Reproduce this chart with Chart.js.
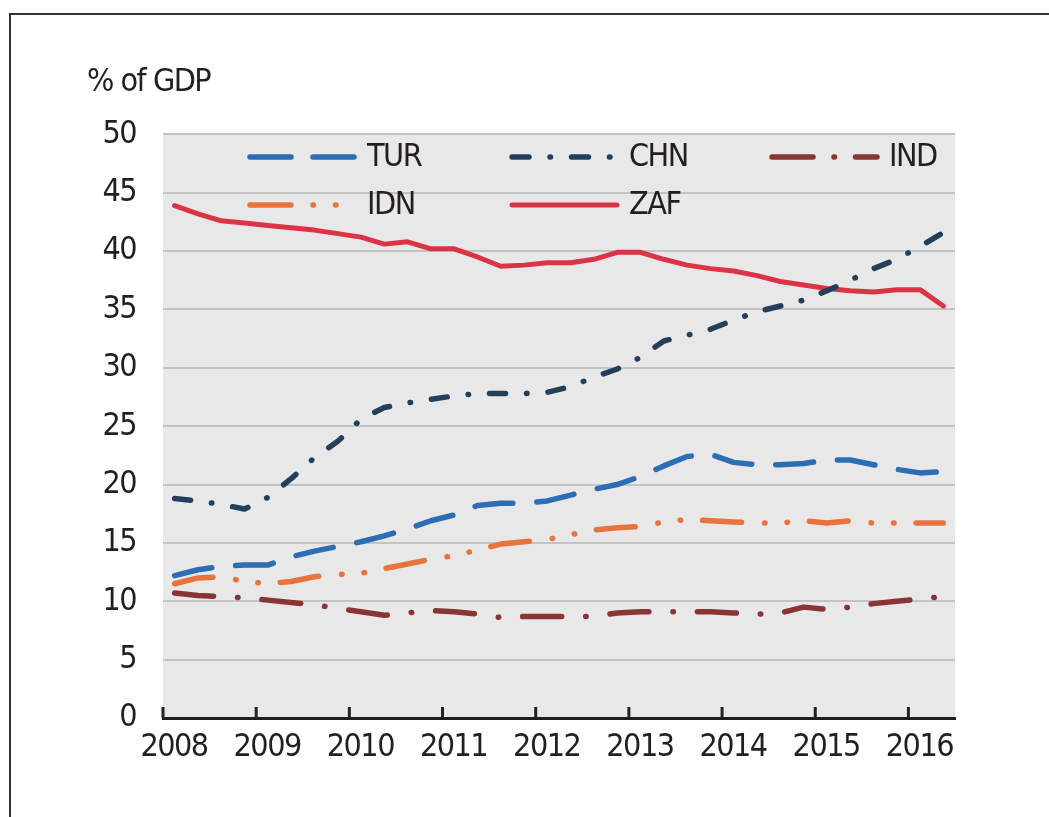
<!DOCTYPE html>
<html>
<head>
<meta charset="utf-8">
<title>% of GDP</title>
<script src="https://cdn.jsdelivr.net/npm/chart.js@4"></script>
<style>
  html, body { margin: 0; padding: 0; background: #fff; overflow: hidden; }
  #wrap { position: relative; width: 1049px; height: 817px; }
  #frame {
    position: absolute; left: 9px; top: 13px; width: 1100px; height: 900px;
    border-top: 2px solid #333; border-left: 2px solid #333;
  }
  #myChart { position: absolute; left: 0; top: 0; }
</style>
</head>
<body>
<div id="wrap">
  <div id="frame"></div>
  <canvas id="myChart" width="1049" height="817"></canvas>
</div>
<script>
// tick labels and quarterly positions (middle of each quarter)
const years = [2008, 2009, 2010, 2011, 2012, 2013, 2014, 2015, 2016];
const quarters = [
  2008.125, 2008.375, 2008.625, 2008.875, 2009.125, 2009.375, 2009.625, 2009.875,
  2010.125, 2010.375, 2010.625, 2010.875, 2011.125, 2011.375, 2011.625, 2011.875,
  2012.125, 2012.375, 2012.625, 2012.875, 2013.125, 2013.375, 2013.625, 2013.875,
  2014.125, 2014.375, 2014.625, 2014.875, 2015.125, 2015.375, 2015.625, 2015.875,
  2016.125, 2016.375,
];

// series values, % of GDP
const tur = [
  12.2, 12.7, 13.0, 13.1, 13.1, 13.8, 14.3, 14.7, 15.1, 15.6, 16.2, 16.9,
  17.4, 18.2, 18.4, 18.4, 18.6, 19.1, 19.6, 20.0, 20.7, 21.6, 22.4, 22.6,
  21.9, 21.7, 21.7, 21.8, 22.1, 22.1, 21.7, 21.3, 21.0, 21.1,
];
const chn = [
  18.8, 18.6, 18.3, 17.9, 18.9, 20.5, 22.3, 23.7, 25.6, 26.6, 27.0, 27.3,
  27.6, 27.8, 27.8, 27.8, 27.9, 28.4, 29.2, 29.9, 30.9, 32.3, 32.8, 33.3,
  34.1, 34.8, 35.3, 35.8, 36.6, 37.5, 38.5, 39.3, 40.4, 41.6,
];
const ind = [
  10.7, 10.5, 10.4, 10.3, 10.1, 9.9, 9.7, 9.4, 9.1, 8.8, 9.0, 9.2,
  9.1, 8.9, 8.6, 8.7, 8.7, 8.7, 8.7, 9.0, 9.1, 9.1, 9.1, 9.1,
  9.0, 8.9, 9.0, 9.5, 9.3, 9.5, 9.8, 10.0, 10.2, 10.4,
];
const idn = [
  11.5, 12.0, 12.1, 11.7, 11.5, 11.7, 12.1, 12.3, 12.4, 12.8, 13.2, 13.6,
  13.9, 14.4, 14.9, 15.1, 15.3, 15.7, 16.1, 16.3, 16.4, 16.8, 17.0, 16.9,
  16.8, 16.7, 16.7, 16.9, 16.7, 16.9, 16.7, 16.7, 16.7, 16.7,
];
const zaf = [
  43.9, 43.2, 42.6, 42.4, 42.2, 42.0, 41.8, 41.5, 41.2, 40.6, 40.8, 40.2,
  40.2, 39.5, 38.7, 38.8, 39.0, 39.0, 39.3, 39.9, 39.9, 39.3, 38.8, 38.5,
  38.3, 37.9, 37.4, 37.1, 36.8, 36.6, 36.5, 36.7, 36.7, 35.3,
];

const FONT = '"Liberation Sans Narrow", "DejaVu Sans Condensed", "Arial Narrow", sans-serif';
const TEXT = "#231f20";
const TIGHT = "-1.5px"; // narrow the lettering a bit, the original uses a condensed face

function points(values) {
  return values.map((v, i) => ({ x: quarters[i], y: v }));
}

// legend slots: column x of the line sample, row y (inside the plot)
const legendSlots = [
  { x: 250, y: 157 }, // TUR
  { x: 512, y: 157 }, // CHN
  { x: 772, y: 157 }, // IND
  { x: 250, y: 205 }, // IDN
  { x: 512, y: 205 }, // ZAF
];

const chartDecor = {
  id: "chartDecor",
  beforeDraw(chart) {
    const { ctx, chartArea: a } = chart;
    ctx.save();
    ctx.fillStyle = "#e8e8e8";
    ctx.fillRect(a.left, a.top, a.right - a.left, a.bottom - a.top);
    ctx.restore();
    ctx.letterSpacing = TIGHT;
  },
  afterDraw(chart) {
    const { ctx, chartArea: a } = chart;
    const xs = chart.scales.x;
    ctx.save();
    // tick marks pointing up into the plot
    ctx.strokeStyle = "#222";
    ctx.lineWidth = 3;
    xs.ticks.forEach((t) => {
      const px = xs.getPixelForValue(t.value);
      ctx.beginPath();
      ctx.moveTo(px, a.bottom);
      ctx.lineTo(px, a.bottom - 11);
      ctx.stroke();
    });

    // legend inside the plot
    ctx.font = "32px " + FONT;
    ctx.letterSpacing = TIGHT;
    ctx.textBaseline = "middle";
    ctx.fillStyle = TEXT;
    chart.data.datasets.forEach((ds, i) => {
      const s = legendSlots[i];
      ctx.save();
      ctx.strokeStyle = ds.borderColor;
      ctx.lineWidth = ds.borderWidth;
      ctx.lineCap = "round";
      ctx.setLineDash(ds.legendDash || []);
      ctx.beginPath();
      ctx.moveTo(s.x, s.y);
      ctx.lineTo(s.x + 105, s.y);
      ctx.stroke();
      ctx.restore();
      ctx.fillText(ds.label, s.x + 117, s.y + 1);
    });
    ctx.restore();
  },
};

const ctx = document.getElementById("myChart").getContext("2d");
const myChart = new Chart(ctx, {
  type: "line",
  data: {
    datasets: [
      {
        label: "TUR",
        data: points(tur),
        borderColor: "#2d6db4",
        borderWidth: 5.5,
        borderDash: [38, 24],
        legendDash: [41, 22],
      },
      {
        label: "CHN",
        data: points(chn),
        borderColor: "#22405c",
        borderWidth: 5.5,
        borderDash: [16, 21, 0.5, 21],
        legendDash: [17, 21, 0.5, 21],
      },
      {
        label: "IND",
        data: points(ind),
        borderColor: "#8a3535",
        borderWidth: 5.5,
        borderDash: [39, 24, 0.5, 24],
        legendDash: [41, 21, 0.5, 21],
      },
      {
        label: "IDN",
        data: points(idn),
        borderColor: "#e8733d",
        borderWidth: 5.5,
        borderDash: [39, 23, 0.5, 22, 0.5, 22],
        legendDash: [41, 22, 0.5, 22, 0.5, 22],
      },
      {
        label: "ZAF",
        data: points(zaf),
        borderColor: "#dc3447",
        borderWidth: 5,
      },
    ],
  },
  options: {
    responsive: false,
    animation: false,
    datasets: {
      line: {
        pointRadius: 0,
        tension: 0,
        borderCapStyle: "round",
        borderJoinStyle: "round",
      },
    },
    layout: {
      padding: { left: 87, right: 94, top: 0, bottom: 39 },
    },
    plugins: {
      legend: { display: false },
      tooltip: { enabled: false },
      title: {
        display: true,
        text: "% of GDP",
        align: "start",
        color: TEXT,
        font: { family: FONT, size: 32, weight: "normal" },
        padding: { top: 63, bottom: 33 },
      },
    },
    scales: {
      x: {
        type: "linear",
        min: 2008,
        max: 2016.5,
        afterBuildTicks: (scale) => {
          scale.ticks = years.map((y) => ({ value: y }));
        },
        afterFit: (scale) => {
          scale.height = 60;
        },
        grid: { display: false, drawTicks: false },
        border: { display: true, color: "#1e1e1e", width: 3 },
        ticks: {
          padding: 10,
          labelOffset: 11,
          maxRotation: 0,
          color: TEXT,
          font: { family: FONT, size: 32 },
          callback: (v) => String(v),
        },
      },
      y: {
        min: 0,
        max: 50,
        afterFit: (scale) => {
          scale.width = 76;
        },
        grid: { color: "#c3c3c3", lineWidth: 2, drawTicks: false },
        border: { display: false },
        ticks: {
          stepSize: 5,
          padding: 27,
          color: TEXT,
          font: { family: FONT, size: 32 },
        },
      },
    },
  },
  plugins: [chartDecor],
});
</script>
</body>
</html>
